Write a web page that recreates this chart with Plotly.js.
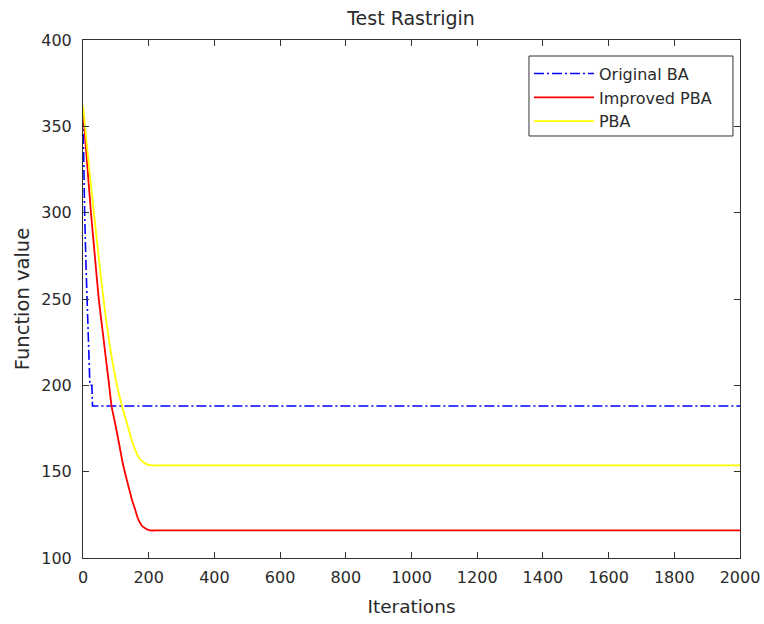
<!DOCTYPE html>
<html>
<head>
<meta charset="utf-8">
<script src="https://cdn.plot.ly/plotly-3.0.1.min.js"></script>
<style>html,body{margin:0;padding:0;background:#fff;}#chart{width:764px;height:624px;}</style>
</head>
<body>
<div id="chart"></div>
<script>
// Data
const baIter = [0, 2, 5, 9, 13, 17, 20, 21, 27, 29, 2000];
const baValue = [356, 330, 300, 270, 247, 225, 205, 200, 200, 188, 188];

const improvedIter = [0, 12, 24, 36, 48, 60, 70, 79, 87, 95, 102, 112, 122, 135, 148, 158, 168, 178, 189, 204, 230, 300, 2000];
const improvedValue = [359.5, 330, 300.5, 275, 250, 231, 215, 201, 188, 180.5, 174, 164, 154, 144, 134.5, 128.5, 122.5, 119, 117.2, 116, 116, 116, 116];

const pbaIter = [0, 16, 33, 48, 63, 80, 99, 110, 120, 133, 148, 160, 168, 180, 189, 200, 210, 240, 300, 2000];
const pbaValue = [362, 331, 300, 274, 249, 225, 204, 194.5, 187, 178.5, 168.5, 162, 158.7, 156, 154.8, 153.9, 153.6, 153.6, 153.6, 153.6];

const seriesNames = ["Original BA", "Improved PBA", "PBA"];
const xTicks = [0, 200, 400, 600, 800, 1000, 1200, 1400, 1600, 1800, 2000];
const yTicks = [100, 150, 200, 250, 300, 350, 400];

const FONT = "DejaVu Sans, Arial, sans-serif";
const TXT = "#2a2a2a";
const AX = "#333333";

const traces = [
  {x: baIter, y: baValue, name: seriesNames[0], mode: "lines",
   line: {color: "#0000ff", width: 1.6, dash: "10px,3px,2px,3px"}},
  {x: improvedIter, y: improvedValue, name: seriesNames[1], mode: "lines",
   line: {color: "#ff0000", width: 1.8, shape: "spline", smoothing: 0.6}},
  {x: pbaIter, y: pbaValue, name: seriesNames[2], mode: "lines",
   line: {color: "#ffff00", width: 1.8, shape: "spline", smoothing: 0.6}}
];

const layout = {
  width: 764, height: 624,
  margin: {l: 83, r: 24, t: 40, b: 66},
  paper_bgcolor: "#ffffff", plot_bgcolor: "#ffffff",
  font: {family: FONT, color: TXT, size: 16},
  title: {text: "Test Rastrigin", font: {family: FONT, size: 19, color: TXT},
          x: 0.538, xanchor: "center", y: 0.971, yanchor: "middle", yref: "container"},
  xaxis: {
    range: [0, 2000], tickvals: xTicks, ticktext: xTicks.map(String),
    ticks: "inside", ticklen: 6, tickcolor: AX, tickwidth: 1,
    showline: true, linecolor: AX, linewidth: 1, mirror: "ticks",
    showgrid: false, zeroline: false, ticklabelstandoff: 5,
    tickfont: {family: FONT, size: 16, color: TXT},
    title: {text: "Iterations", font: {family: FONT, size: 18.5, color: TXT}, standoff: 13}
  },
  yaxis: {
    range: [100, 400], tickvals: yTicks, ticktext: yTicks.map(String),
    ticks: "inside", ticklen: 6, tickcolor: AX, tickwidth: 1,
    showline: true, linecolor: AX, linewidth: 1, mirror: "ticks",
    showgrid: false, zeroline: false, ticklabelstandoff: 7,
    tickfont: {family: FONT, size: 16, color: TXT},
    title: {text: "Function value", font: {family: FONT, size: 19.5, color: TXT}, standoff: 6}
  },
  shapes: [{
    type: "rect", xref: "paper", yref: "paper", layer: "above",
    x0: 0.6788, x1: 0.9893, y0: 0.8147, y1: 0.9691,
    line: {color: AX, width: 1}, fillcolor: "#ffffff"
  }],
  showlegend: true,
  legend: {
    x: 0.6788, xanchor: "left", y: 0.968, yanchor: "top",
    bgcolor: "rgba(0,0,0,0)", borderwidth: 0,
    font: {family: FONT, size: 16, color: TXT},
    itemwidth: 60
  }
};

Plotly.newPlot("chart", traces, layout, {displayModeBar: false, staticPlot: true});
</script>
</body>
</html>
